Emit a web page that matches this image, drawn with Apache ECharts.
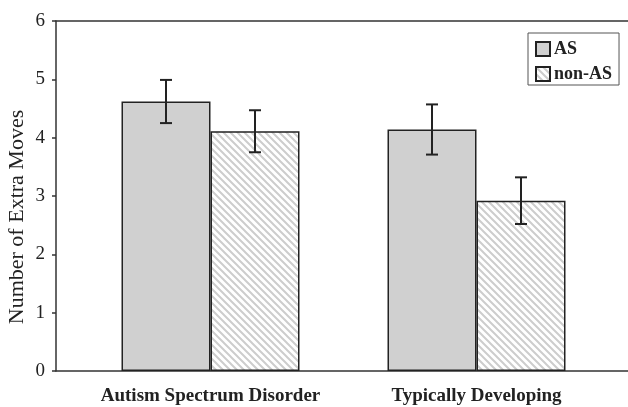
<!DOCTYPE html>
<html>
<head>
<meta charset="utf-8">
<script src="https://cdn.jsdelivr.net/npm/echarts@6/dist/echarts.min.js"></script>
<style>html,body{margin:0;padding:0;background:#fff;}#c{width:628px;height:407px;}</style>
</head>
<body>
<div id="c"></div>
<script>
const categories = ['Autism Spectrum Disorder', 'Typically Developing'];
const seriesNames = ['AS', 'non-AS'];
const asValues = [4.62, 4.14];
const nonAsValues = [4.11, 2.92];
const asErrors = [0.37, 0.43];
const nonAsErrors = [0.36, 0.40];
const yMin = 0, yMax = 6, yStep = 1;
const yTitle = 'Number of Extra Moves';

const FONT = 'Liberation Serif';
const INK = '#222';
const BAR_W = 89;

function hatchPattern() {
  const s = 7;
  const c = document.createElement('canvas');
  c.width = s; c.height = s;
  const ctx = c.getContext('2d');
  ctx.fillStyle = '#ffffff';
  ctx.fillRect(0, 0, s, s);
  ctx.strokeStyle = '#cdcdcd';
  ctx.lineWidth = 2;
  ctx.beginPath();
  for (const o of [-s, 0, s]) {
    ctx.moveTo(o - 1, -1);
    ctx.lineTo(o + s + 1, s + 1);
  }
  ctx.stroke();
  return { image: c, repeat: 'repeat' };
}

function errorSeries(name, values, errors, offset) {
  return {
    type: 'custom',
    name: name + ' err',
    xAxisIndex: 2, yAxisIndex: 1,
    z: 10,
    silent: true,
    renderItem: function (params, api) {
      const i = api.value(0), v = api.value(1), e = api.value(2);
      const top = api.coord([i, v + e]);
      const bot = api.coord([i, v - e]);
      const x = top[0] + offset;
      const st = { stroke: INK, lineWidth: 2 };
      return {
        type: 'group',
        children: [
          { type: 'line', shape: { x1: x, y1: top[1], x2: x, y2: bot[1] }, style: st },
          { type: 'line', shape: { x1: x - 6, y1: top[1], x2: x + 6, y2: top[1] }, style: st },
          { type: 'line', shape: { x1: x - 6, y1: bot[1], x2: x + 6, y2: bot[1] }, style: st }
        ]
      };
    },
    data: categories.map((c, i) => [i, values[i], errors[i]])
  };
}

const chart = echarts.init(document.getElementById('c'), null, { renderer: 'canvas' });
const hatch = hatchPattern();

chart.setOption({
  animation: false,
  backgroundColor: '#fff',
  textStyle: { fontFamily: FONT, color: INK },
  legend: {
    data: seriesNames,
    orient: 'vertical',
    left: 528, top: 33,
    width: 89,
    padding: [7, 7, 2, 7],
    itemGap: 7,
    itemWidth: 14, itemHeight: 14,
    borderColor: '#555', borderWidth: 1,
    icon: 'rect',
    textStyle: { fontFamily: FONT, fontWeight: 'bold', fontSize: 18, color: INK, padding: [0, 0, 0, -1] }
  },
  grid: [
    { left: 56, top: 21, right: 0, bottom: 36, containLabel: false, outerBoundsMode: 'none' },
    { left: 77.5, top: 21, width: 532, bottom: 36, containLabel: false, outerBoundsMode: 'none' }
  ],
  xAxis: [
    { type: 'category', gridIndex: 0, data: [''], position: 'bottom',
      axisLine: { show: true, lineStyle: { color: '#333', width: 1.5 } },
      axisTick: { show: false }, axisLabel: { show: false }, splitLine: { show: false } },
    { type: 'category', gridIndex: 0, data: [''], position: 'top',
      axisLine: { show: true, lineStyle: { color: '#333', width: 1.5 } },
      axisTick: { show: false }, axisLabel: { show: false }, splitLine: { show: false } },
    { type: 'category', gridIndex: 1, data: categories,
      axisLine: { show: false }, axisTick: { show: false },
      axisLabel: { interval: 0, fontFamily: FONT, fontWeight: 'bold', fontSize: 19, color: INK, margin: 16 } }
  ],
  yAxis: [
    { type: 'value', gridIndex: 0, min: yMin, max: yMax, interval: yStep,
      name: yTitle, nameLocation: 'middle', nameGap: 28, nameMoveOverlap: false,
      nameTextStyle: { fontFamily: FONT, fontSize: 22, color: INK, padding: [0, 42, 0, 0] },
      axisLine: { show: true, lineStyle: { color: '#333', width: 1.5 } },
      axisTick: { show: true, inside: false, length: 4, lineStyle: { color: '#333', width: 1.5 } },
      axisLabel: { fontFamily: FONT, fontSize: 19, color: INK, margin: 11 },
      splitLine: { show: false } },
    { type: 'value', gridIndex: 1, min: yMin, max: yMax, interval: yStep, show: false }
  ],
  series: [
    { type: 'bar', name: seriesNames[0], xAxisIndex: 2, yAxisIndex: 1,
      barWidth: BAR_W, barGap: '0%',
      itemStyle: { color: '#d0d0d0', borderColor: INK, borderWidth: 1.5 },
      data: asValues },
    { type: 'bar', name: seriesNames[1], xAxisIndex: 2, yAxisIndex: 1,
      barWidth: BAR_W, barGap: '0%',
      itemStyle: { color: hatch, borderColor: INK, borderWidth: 1.5 },
      data: nonAsValues },
    errorSeries(seriesNames[0], asValues, asErrors, -BAR_W / 2),
    errorSeries(seriesNames[1], nonAsValues, nonAsErrors, BAR_W / 2)
  ]
});
</script>
</body>
</html>
